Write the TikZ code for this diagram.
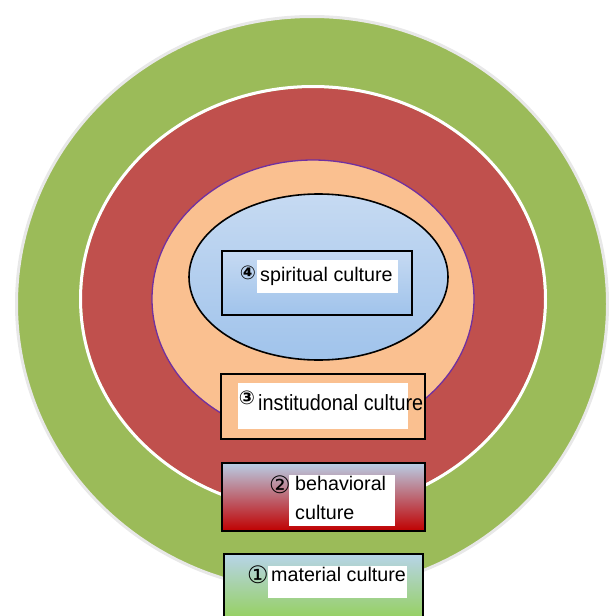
\documentclass[tikz,border=0pt]{standalone}
\usepackage{fontspec}
\setmainfont{Liberation Sans}
\newfontfamily\circfont{DejaVu Sans}
\usepackage{graphicx}
\definecolor{ringgreen}{RGB}{155,187,89}
\definecolor{ringred}{RGB}{192,80,77}
\definecolor{ringpeach}{RGB}{250,192,144}
\definecolor{ringpurple}{RGB}{112,48,160}
\definecolor{blueA}{RGB}{198,218,242}
\definecolor{blueB}{RGB}{160,195,235}
\definecolor{boxblue}{RGB}{185,205,229}
\definecolor{boxred}{RGB}{192,0,0}
\definecolor{boxpink}{RGB}{200,150,165}
\definecolor{boxgreen}{RGB}{146,208,80}
\definecolor{boxsky}{RGB}{183,212,233}
\definecolor{rimgray}{RGB}{232,232,232}
\begin{document}
\begin{tikzpicture}[x=1pt,y=-1pt,
  layerbox/.style={draw=black,line width=2.2pt,rectangle,inner sep=0pt},
  whitebg/.style={fill=white,rectangle,inner sep=0pt},
  labeltext/.style={inner sep=0pt,font=\fontsize{19.7}{22}\selectfont},
  circnum/.style={inner sep=0pt,font=\circfont\bfseries\fontsize{19}{19}\selectfont},
  circbig/.style={inner sep=0pt,font=\circfont\fontsize{24}{24}\selectfont}]
\useasboundingbox (0,0) rectangle (609,616);
% rings
\fill[ringgreen] (312,304) ellipse [x radius=295.5, y radius=287.5];
\draw[rimgray,line width=3pt] (312,304) ellipse [x radius=295.5, y radius=287.5];
\fill[ringred] (313,299) ellipse [x radius=231, y radius=211];
\draw[white,line width=3pt] (313,299) ellipse [x radius=232.5, y radius=212.5];
\fill[ringpeach] (313,299) ellipse [x radius=161, y radius=139];
\draw[ringpurple,line width=1.3pt] (313,299) ellipse [x radius=161, y radius=139];
\shade[top color=blueA,bottom color=blueB] (318.5,277) ellipse [x radius=129.5, y radius=83];
\draw[black,line width=1.6pt] (318.5,277) ellipse [x radius=129.5, y radius=83];
% spiritual box
\node[layerbox,minimum width=190pt,minimum height=64pt,top color=blueA,bottom color=blueB] (sbox) at (317,283) {};
\node[whitebg,minimum width=141pt,minimum height=33pt] (sbg) at (327.5,276.5) {};
\node[labeltext,anchor=base west] (stext) at (260,281) {spiritual culture};
\node[circnum] (snum) at (248,273) {④};
% institutional box
\node[layerbox,minimum width=204pt,minimum height=65pt,fill=ringpeach] (ibox) at (323,406.5) {};
\node[whitebg,minimum width=170pt,minimum height=46pt] (ibg) at (323,406) {};
\node[labeltext,anchor=base west] (itext) at (258,410) {\fontsize{22}{24}\selectfont\scalebox{0.9}[1]{institudonal culture}};
\node[circnum] (inum) at (247,398) {③};
% behavioral box
\node[layerbox,minimum width=203pt,minimum height=68pt,top color=boxblue,middle color=boxpink,bottom color=boxred] (bbox) at (323.5,497) {};
\node[whitebg,minimum width=106pt,minimum height=51pt] (bbg) at (342,500.5) {};
\node[labeltext,anchor=base west] (btext1) at (295,490) {behavioral};
\node[labeltext,anchor=base west] (btext2) at (295,519) {culture};
\node[circbig] (bnum) at (280,485) {②};
% material box
\node[layerbox,minimum width=199pt,minimum height=72pt,top color=boxsky,bottom color=boxgreen] (mbox) at (323.5,590) {};
\node[whitebg,minimum width=139pt,minimum height=32pt] (mbg) at (337.5,582) {};
\node[labeltext,anchor=base west] (mtext) at (271,581) {material culture};
\node[circbig] (mnum) at (258,575) {①};
\end{tikzpicture}
\end{document}
